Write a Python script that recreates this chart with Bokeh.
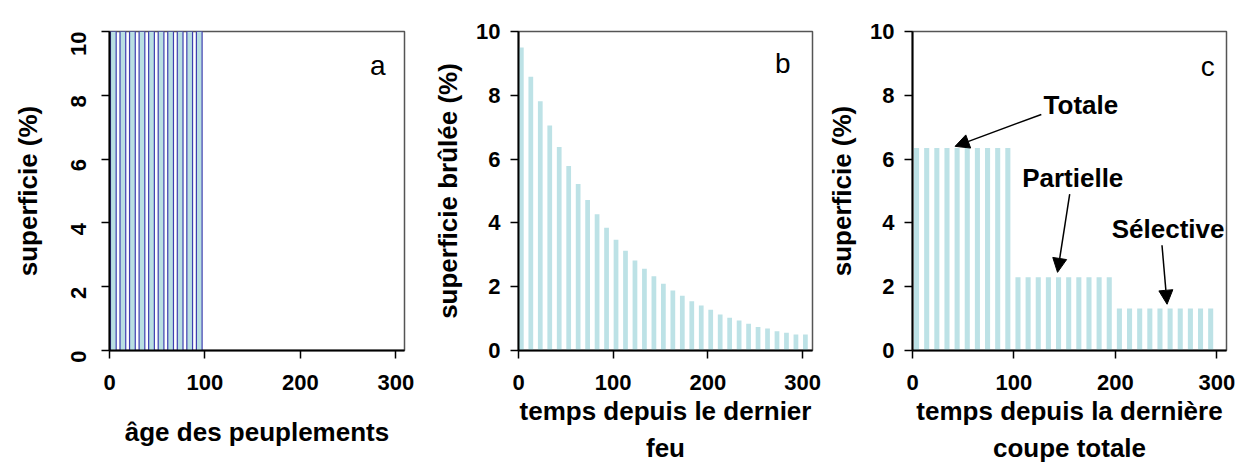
import math
from bokeh.plotting import figure
from bokeh.layouts import row
from bokeh.models import Range1d, Label, Arrow, NormalHead, FixedTicker, ColumnDataSource
from bokeh.transform import dodge
from bokeh.embed import file_html
from bokeh.resources import INLINE

# ---- data ----
ages_a = [0, 10, 20, 30, 40, 50, 60, 70, 80, 90]
area_a = [10, 10, 10, 10, 10, 10, 10, 10, 10, 10]

times_b = [0, 10, 20, 30, 40, 50, 60, 70, 80, 90, 100, 110, 120, 130, 140, 150,
           160, 170, 180, 190, 200, 210, 220, 230, 240, 250, 260, 270, 280, 290, 300]
burn_b = [9.5, 8.58, 7.81, 7.05, 6.38, 5.78, 5.22, 4.72, 4.27, 3.85, 3.47, 3.13,
          2.82, 2.56, 2.33, 2.09, 1.88, 1.72, 1.54, 1.41, 1.28, 1.13, 1.03, 0.94,
          0.84, 0.74, 0.69, 0.6, 0.56, 0.5, 0.5]

times_c = [0, 10, 20, 30, 40, 50, 60, 70, 80, 90, 100, 110, 120, 130, 140, 150,
           160, 170, 180, 190, 200, 210, 220, 230, 240, 250, 260, 270, 280, 290]
cut_c = [6.35, 6.35, 6.35, 6.35, 6.35, 6.35, 6.35, 6.35, 6.35, 6.35,
         2.3, 2.3, 2.3, 2.3, 2.3, 2.3, 2.3, 2.3, 2.3, 2.3,
         1.32, 1.32, 1.32, 1.32, 1.32, 1.32, 1.32, 1.32, 1.32, 1.32]

x_ticks = [0, 100, 200, 300]
y_ticks = [0, 2, 4, 6, 8, 10]

FONT = "Liberation Sans"
BAR = "#bde2e6"


def make_fig(xmax, border_left, frame_w, ylabel, xlabel, x_label_standoff):
    p = figure(width=border_left + frame_w + 10, height=466,
               x_range=Range1d(0, xmax), y_range=Range1d(0, 10),
               output_backend="svg", toolbar_location=None,
               min_border_left=border_left, min_border_right=10,
               min_border_top=31, min_border_bottom=115)
    p.xgrid.visible = False
    p.ygrid.visible = False
    p.outline_line_color = "#555555"
    p.outline_line_width = 1.5
    p.background_fill_color = "white"
    p.border_fill_color = "white"
    for ax in (p.xaxis[0], p.yaxis[0]):
        ax.axis_line_color = "black"
        ax.axis_line_width = 2
        ax.major_tick_line_color = "black"
        ax.major_tick_line_width = 1.5
        ax.major_tick_out = 8
        ax.major_tick_in = 0
        ax.minor_tick_line_color = None
        ax.major_label_text_font = FONT
        ax.major_label_text_font_style = "bold"
        ax.major_label_text_font_size = "22px"
        ax.major_label_text_color = "black"
        ax.axis_label_text_font = FONT
        ax.axis_label_text_font_style = "bold"
        ax.axis_label_text_font_size = "26px"
        ax.axis_label_text_color = "black"
        ax.axis_label_text_line_height = 1.25
    p.xaxis.ticker = FixedTicker(ticks=x_ticks)
    p.yaxis.ticker = FixedTicker(ticks=y_ticks)
    p.xaxis.axis_label = xlabel
    p.yaxis.axis_label = ylabel
    p.xaxis.major_label_standoff = 16
    p.xaxis.axis_label_standoff = x_label_standoff
    p.yaxis.major_label_standoff = 10
    p.yaxis.axis_label_standoff = 10
    return p


# ---- panel a ----
pa = make_fig(309, 109, 295, "superficie (%)", "âge des peuplements", 24)
pa.yaxis.major_label_orientation = math.pi / 2
pa.yaxis.major_label_standoff = 23
pa.yaxis.axis_label_standoff = 18
src_a = ColumnDataSource(dict(x=ages_a, y=area_a))
pa.vbar(x=dodge("x", 4, range=pa.x_range), top="y", bottom=0, width=6, source=src_a,
        fill_color="#b9dfe2", line_color="#3f3fb0", line_width=1.2)
pa.add_layout(Label(x=281, y=8.94, text="a", text_font=FONT, text_font_size="28px",
                    text_align="center", text_baseline="middle", text_color="black"))

# ---- panel b ----
pb = make_fig(310.5, 104, 294, "superficie brûlée (%)",
              "temps depuis le dernier\nfeu", 3)
src_b = ColumnDataSource(dict(x=times_b, y=burn_b))
pb.vbar(x=dodge("x", 3, range=pb.x_range), top="y", bottom=0, width=5, source=src_b,
        fill_color=BAR, line_color=None)
pb.add_layout(Label(x=279, y=9.0, text="b", text_font=FONT, text_font_size="28px",
                    text_align="center", text_baseline="middle", text_color="black"))

# ---- panel c ----
pc = make_fig(309.6, 90, 314, "superficie (%)",
              "temps depuis la dernière\ncoupe totale", 3)
src_c = ColumnDataSource(dict(x=times_c, y=cut_c))
pc.vbar(x=dodge("x", 4, range=pc.x_range), top="y", bottom=0, width=5, source=src_c,
        fill_color=BAR, line_color=None)
pc.add_layout(Label(x=291, y=8.9, text="c", text_font=FONT, text_font_size="28px",
                    text_align="center", text_baseline="middle", text_color="black"))

annotations = [
    ("Totale", 166, 7.7, 127, 7.4, 42, 6.4),
    ("Partielle", 158, 5.4, 155, 4.9, 143, 2.45),
    ("Sélective", 252, 3.8, 246, 3.3, 251, 1.45),
]
for txt, tx, ty, x0, y0, x1, y1 in annotations:
    pc.add_layout(Label(x=tx, y=ty, text=txt, text_font=FONT, text_font_style="bold",
                        text_font_size="26px", text_align="center",
                        text_baseline="middle", text_color="black"))
    pc.add_layout(Arrow(x_start=x0, y_start=y0, x_end=x1, y_end=y1,
                        line_color="black", line_width=1.5,
                        end=NormalHead(size=14, fill_color="black", line_color="black")))

layout = row(pa, pb, pc)
open("out.html", "w").write(file_html(layout, INLINE))
